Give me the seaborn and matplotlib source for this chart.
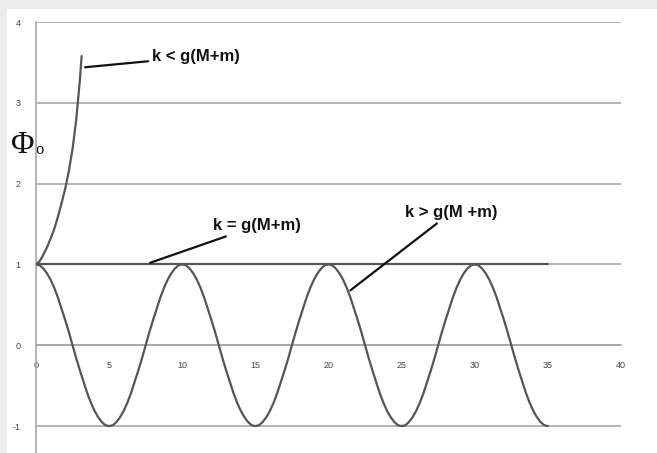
import matplotlib
matplotlib.use("Agg")
import matplotlib.pyplot as plt
from matplotlib.patches import Rectangle
import seaborn as sns

# Time axis and the three response curves
t_osc = [i * 0.25 for i in range(141)]
phi_osc = [
    1.00, 0.99, 0.95, 0.89, 0.81, 0.71, 0.59, 0.45, 0.31, 0.16,
    0.00, -0.16, -0.31, -0.45, -0.59, -0.71, -0.81, -0.89, -0.95, -0.99,
    -1.00, -0.99, -0.95, -0.89, -0.81, -0.71, -0.59, -0.45, -0.31, -0.16,
    0.00, 0.16, 0.31, 0.45, 0.59, 0.71, 0.81, 0.89, 0.95, 0.99,
    1.00, 0.99, 0.95, 0.89, 0.81, 0.71, 0.59, 0.45, 0.31, 0.16,
    0.00, -0.16, -0.31, -0.45, -0.59, -0.71, -0.81, -0.89, -0.95, -0.99,
    -1.00, -0.99, -0.95, -0.89, -0.81, -0.71, -0.59, -0.45, -0.31, -0.16,
    0.00, 0.16, 0.31, 0.45, 0.59, 0.71, 0.81, 0.89, 0.95, 0.99,
    1.00, 0.99, 0.95, 0.89, 0.81, 0.71, 0.59, 0.45, 0.31, 0.16,
    0.00, -0.16, -0.31, -0.45, -0.59, -0.71, -0.81, -0.89, -0.95, -0.99,
    -1.00, -0.99, -0.95, -0.89, -0.81, -0.71, -0.59, -0.45, -0.31, -0.16,
    0.00, 0.16, 0.31, 0.45, 0.59, 0.71, 0.81, 0.89, 0.95, 0.99,
    1.00, 0.99, 0.95, 0.89, 0.81, 0.71, 0.59, 0.45, 0.31, 0.16,
    0.00, -0.16, -0.31, -0.45, -0.59, -0.71, -0.81, -0.89, -0.95, -0.99,
    -1.00,
]

t_grow = [0, 0.25, 0.5, 0.75, 1.0, 1.25, 1.5, 1.75, 2.0, 2.25, 2.5, 2.75, 3.0, 3.12]
phi_grow = [1.00, 1.04, 1.12, 1.21, 1.32, 1.44, 1.59, 1.76, 1.94, 2.16, 2.43, 2.79, 3.28, 3.58]

t_flat = [0, 35]
phi_flat = [1, 1]

x_ticks = [0, 5, 10, 15, 20, 25, 30, 35, 40]
y_ticks = [-1, 0, 1, 2, 3, 4]

labels = ["k < g(M+m)", "k = g(M+m)", "k > g(M +m)"]

sns.set_style("white")
plt.rcParams["font.family"] = ["Liberation Sans", "DejaVu Sans"]

W, H = 657, 453
fig = plt.figure(figsize=(W / 100, H / 100), dpi=100)
fig.patch.set_facecolor("#ececec")
fig.patches.append(Rectangle((7 / W, 0), 1 - 7 / W, (H - 9) / H,
                             transform=fig.transFigure, facecolor="white",
                             edgecolor="none", zorder=-10))

ax = fig.add_axes([36 / W, 0, (621 - 36) / W, 431 / H])
ax.set_facecolor("none")
ax.set_zorder(5)

curve_color = "#555555"
for tx, ty in [(t_osc, phi_osc), (t_grow, phi_grow), (t_flat, phi_flat)]:
    sns.lineplot(x=tx, y=ty, ax=ax, color=curve_color, lw=1.6, sort=False,
                 estimator=None, zorder=3)

ax.set_xlim(0, 40)
ax.set_ylim(-1 - 27 / 81, 4)
ax.set_xticks(x_ticks)
ax.set_yticks(y_ticks)

# horizontal gridlines
grid_c = "#a8a8a8"
for yv in y_ticks:
    ax.axhline(yv, color=grid_c, lw=1.2, zorder=1)

for s in ["top", "right"]:
    ax.spines[s].set_visible(False)
ax.spines["bottom"].set_position(("data", 0))
ax.spines["bottom"].set_color(grid_c)
ax.spines["bottom"].set_linewidth(1.2)
ax.spines["left"].set_color(grid_c)
ax.spines["left"].set_linewidth(1.2)

ax.tick_params(axis="x", direction="inout", length=4, width=1, color=grid_c,
               labelsize=6.5, labelcolor="#444444", pad=9)
ax.tick_params(axis="y", direction="out", length=3, width=1, color=grid_c,
               labelsize=6.5, labelcolor="#444444", pad=8)
ax.set_xticklabels([str(v) for v in x_ticks])
ax.set_yticklabels([str(v) for v in y_ticks])

# curve labels with leader lines
lbl_kw = dict(fontsize=12, fontweight="bold", color="#111111", va="center", ha="left",
              arrowprops=dict(arrowstyle="-", color="#111111", lw=1.6,
                              shrinkA=0, shrinkB=0))
ax.annotate(labels[0], xy=(3.35, 3.44), xytext=(7.9, 3.57), **lbl_kw)
ax.annotate(labels[1], xy=(7.8, 1.02), xytext=(12.1, 1.48), **lbl_kw)
ax.annotate(labels[2], xy=(21.5, 0.68), xytext=(25.2, 1.64), **lbl_kw)

# y-axis symbol
fig.text(11 / W, 1 - 153 / H, "Φ", fontsize=23, family="Liberation Serif",
         color="#111111", ha="left", va="baseline")
fig.text(35 / W, 1 - 154 / H, "o", fontsize=12, family="Liberation Serif",
         color="#111111", ha="left", va="baseline")

fig.savefig("out.png", dpi=100, facecolor=fig.get_facecolor())
